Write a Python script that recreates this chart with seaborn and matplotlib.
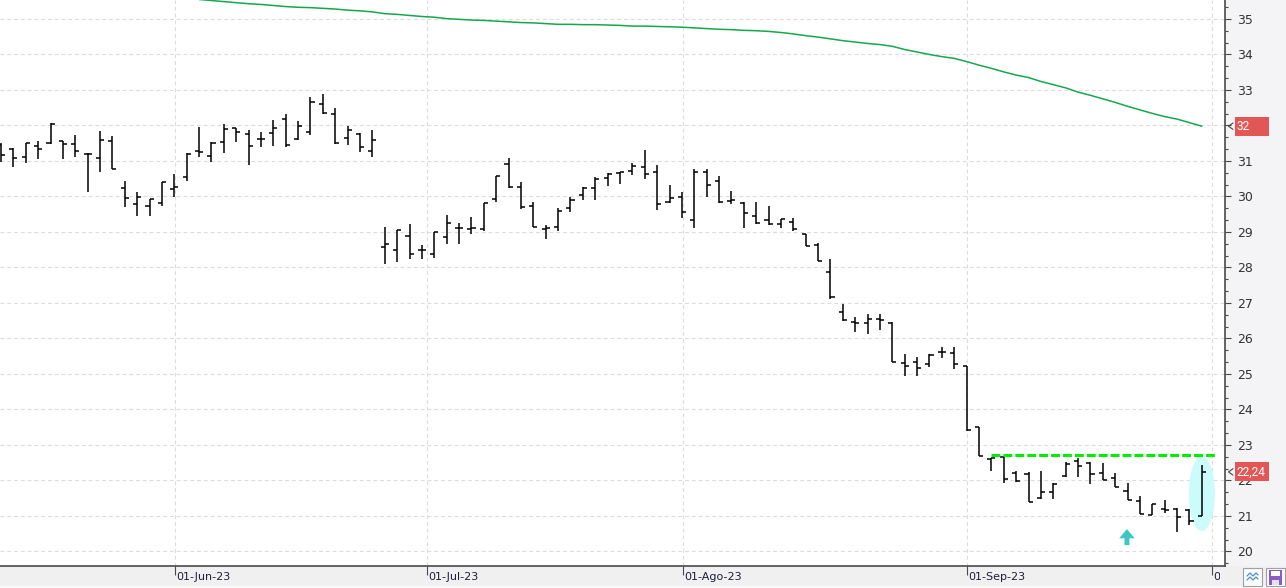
import numpy as np
import pandas as pd
import seaborn as sns
import matplotlib.pyplot as plt
from matplotlib.patches import Rectangle, Ellipse, FancyArrow
from matplotlib.lines import Line2D
from matplotlib.ticker import MultipleLocator, FixedLocator
from matplotlib.transforms import blended_transform_factory, Bbox, TransformedBbox

# Daily OHLC bars (one per trading session)
opens = [31.45, 31.34, 31.11, 31.42, 31.51, 31.56, 31.48, 31.20, 31.08, 31.56,
         30.24, 29.79, 29.73, 29.82, 30.21, 30.55, 31.28, 31.14, 31.54, 31.93,
         31.76, 31.62, 31.79, 32.18, 31.62, 31.82, 32.61, 32.32, 31.65, 31.76,
         31.28, 28.58, 28.49, 28.89, 28.49, 28.38, 28.86, 29.11, 29.08, 29.08,
         29.93, 30.92, 30.27, 29.73, 29.08, 29.14, 29.68, 30.04, 30.24, 30.52,
         30.66, 30.72, 30.83, 30.69, 29.85, 29.99, 29.34, 30.69, 30.44, 29.87,
         29.82, 29.45, 29.34, 29.23, 29.28, 28.94, 28.63, 27.87, 26.75, 26.46,
         26.44, 26.55, 26.44, 25.31, 25.34, 25.28, 25.62, 25.59, 25.23, 23.51,
         22.61, 22.66, 22.21, 22.18, 21.51, 21.68, 22.13, 22.55, 22.49, 22.21,
         22.07, 21.70, 21.42, 21.03, 21.20, 21.20, 21.17, 21.00]
highs = [31.51, 31.37, 31.51, 31.56, 32.07, 31.56, 31.73, 31.23, 31.85, 31.70,
         30.44, 30.13, 29.93, 30.41, 30.63, 31.23, 31.96, 31.54, 32.04, 31.93,
         31.87, 31.82, 32.15, 32.32, 32.13, 32.80, 32.89, 32.49, 31.99, 31.79,
         31.87, 29.14, 29.06, 29.23, 28.63, 29.00, 29.48, 29.25, 29.42, 29.82,
         30.58, 31.08, 30.41, 29.85, 29.20, 29.68, 29.99, 30.27, 30.55, 30.66,
         30.69, 30.94, 31.31, 30.89, 30.32, 30.13, 30.78, 30.78, 30.58, 30.15,
         29.85, 29.85, 29.73, 29.37, 29.39, 28.94, 28.69, 28.24, 26.97, 26.61,
         26.69, 26.69, 26.46, 25.56, 25.48, 25.56, 25.76, 25.76, 25.23, 23.51,
         22.63, 22.66, 22.27, 22.24, 22.27, 21.93, 22.52, 22.63, 22.52, 22.49,
         22.21, 21.93, 21.56, 21.34, 21.45, 21.23, 21.20, 22.44]
lows = [30.97, 30.83, 30.94, 31.06, 31.48, 31.06, 31.11, 30.13, 30.69, 30.77,
        29.70, 29.45, 29.45, 29.73, 29.99, 30.44, 31.11, 30.97, 31.23, 31.54,
        30.89, 31.39, 31.42, 31.39, 31.59, 31.73, 32.32, 31.48, 31.45, 31.25,
        31.11, 28.10, 28.15, 28.24, 28.24, 28.27, 28.66, 28.66, 28.94, 29.03,
        29.85, 30.24, 29.65, 29.14, 28.80, 29.03, 29.56, 29.90, 29.90, 30.30,
        30.35, 30.61, 30.49, 29.62, 29.82, 29.39, 29.11, 29.99, 29.82, 29.79,
        29.11, 29.23, 29.20, 29.11, 29.03, 28.61, 28.18, 27.11, 26.49, 26.18,
        26.13, 26.24, 25.34, 24.94, 24.94, 25.20, 25.45, 25.14, 23.39, 22.69,
        22.27, 21.92, 21.96, 21.39, 21.48, 21.48, 22.10, 22.10, 21.90, 22.01,
        21.82, 21.45, 21.06, 21.03, 21.08, 20.55, 20.75, 20.99]
closes = [31.17, 31.08, 31.51, 31.34, 32.04, 31.48, 31.28, 31.20, 31.59, 30.77,
          29.96, 29.99, 29.93, 30.41, 30.27, 31.20, 31.25, 31.51, 31.90, 31.82,
          31.42, 31.62, 31.93, 31.45, 31.99, 32.66, 32.35, 31.51, 31.87, 31.39,
          31.59, 28.66, 29.06, 28.38, 28.49, 29.00, 29.25, 29.11, 29.11, 29.82,
          30.58, 30.27, 29.70, 29.14, 29.11, 29.59, 29.90, 30.24, 30.49, 30.63,
          30.69, 30.86, 30.63, 29.79, 29.96, 29.56, 30.69, 30.32, 29.85, 29.90,
          29.54, 29.25, 29.23, 29.37, 29.08, 28.61, 28.18, 27.17, 26.52, 26.44,
          26.55, 26.52, 25.34, 25.23, 25.17, 25.54, 25.62, 25.28, 23.42, 22.69,
          22.63, 22.04, 21.99, 21.39, 21.68, 21.90, 22.46, 22.41, 22.18, 22.01,
          21.82, 21.45, 21.06, 21.34, 21.17, 20.97, 20.86, 22.24]

# Moving average (green line), starts at session 16
sma_start = 16
sma = [35.55, 35.52, 35.49, 35.46, 35.43, 35.41, 35.38, 35.35, 35.33, 35.32,
       35.30, 35.28, 35.25, 35.23, 35.20, 35.15, 35.13, 35.10, 35.07, 35.05,
       35.01, 34.99, 34.97, 34.96, 34.94, 34.92, 34.90, 34.89, 34.87, 34.85,
       34.85, 34.84, 34.84, 34.83, 34.82, 34.80, 34.80, 34.79, 34.78, 34.77,
       34.75, 34.73, 34.71, 34.70, 34.68, 34.67, 34.65, 34.62, 34.58, 34.53,
       34.49, 34.44, 34.39, 34.35, 34.31, 34.28, 34.23, 34.14, 34.07, 34.00,
       33.94, 33.89, 33.80, 33.70, 33.61, 33.51, 33.42, 33.35, 33.24, 33.15,
       33.06, 32.94, 32.85, 32.75, 32.65, 32.54, 32.44, 32.34, 32.25, 32.18,
       32.08, 31.98]

# Month labels (session-axis positions)
month_pos = [14.05, 34.4, 55.1, 78.0, 97.8]
month_labels = ["01-Jun-23", "01-Jul-23", "01-Ago-23", "01-Sep-23", "01-Oct-23"]

# Resistance level drawn from session 80 on
resistance = 22.72
resistance_from = 79

W, H = 1286, 588

sns.set_theme(style="white")
plt.rcParams['font.family'] = ['DejaVu Sans']

df = pd.DataFrame({'open': opens, 'high': highs, 'low': lows, 'close': closes})
df['idx'] = np.arange(len(df))
sma_df = pd.DataFrame({'idx': np.arange(sma_start, sma_start + len(sma)), 'sma': sma})

fig = plt.figure(figsize=(W / 100, H / 100), dpi=100, facecolor='#f0f0f0')
ax = fig.add_axes([0, 22 / H, 1225 / W, 566 / H])
ax.set_facecolor('white')


def px_rect(x0, y0, x1, y1, **kw):
    r = Rectangle((x0 / W, 1 - y1 / H), (x1 - x0) / W, (y1 - y0) / H,
                  transform=fig.transFigure, **kw)
    fig.patches.append(r)
    return r


# right price strip background and bottom white line
px_rect(1225, 0, W, 566, fc='#f4f4f7', ec='none', zorder=-1)
px_rect(0, 586, W, H, fc='#fafafa', ec='none', zorder=-1)

# highlight ellipse behind the last bar
ax.add_patch(Ellipse((df['idx'].iloc[-1], 21.63), width=2.1, height=2.11,
                     fc='#cbfbfb', ec='none', zorder=1))

# OHLC bars
ax.vlines(df['idx'], df['low'], df['high'], color='black', lw=1.1, zorder=3)
ax.hlines(df['open'], df['idx'] - 0.33, df['idx'], color='black', lw=1.1, zorder=3)
ax.hlines(df['close'], df['idx'], df['idx'] + 0.33, color='black', lw=1.1, zorder=3)

# moving average
sns.lineplot(data=sma_df, x='idx', y='sma', ax=ax, color='#14a84c', lw=1.1, zorder=2)

# resistance line
ax.plot([resistance_from + 0.95, len(df) + 0.05], [resistance, resistance],
        color='#00ee00', lw=2.2, dashes=(2.9, 1.0), zorder=4, solid_capstyle='butt')

# cyan up arrow
ax.add_patch(FancyArrow(90.95, 20.18, 0, 0.45, width=0.4, head_width=1.25,
                        head_length=0.26, length_includes_head=True,
                        fc='#3cc6c6', ec='none', zorder=4))

ax.set_xlim(-0.08, 98.87)
ax.set_ylim(19.59, 35.535)
ax.set_xlabel('')
ax.set_ylabel('')

ax.xaxis.set_major_locator(FixedLocator(month_pos))
ax.yaxis.set_major_locator(MultipleLocator(1))
ax.yaxis.set_minor_locator(MultipleLocator(1 / 3))
ax.grid(True, which='major', color='#dcdcdc', linestyle=(0, (3.5, 2.6)), lw=0.8)
ax.set_axisbelow(True)

ax.yaxis.tick_right()
ax.tick_params(axis='y', which='major', direction='out', length=4.5, width=0.8,
               color='#4a4a4a', labelsize=9, labelcolor='#333333', pad=4,
               right=True, left=False)
ax.tick_params(axis='y', which='minor', direction='out', length=2.5, width=0.8,
               color='#4a4a4a', right=True, left=False)
ax.tick_params(axis='x', direction='out', length=6.5, width=0.8, color='#4a4a4a',
               labelbottom=False, bottom=True)

for side in ['left', 'top']:
    ax.spines[side].set_visible(False)
for side in ['right', 'bottom']:
    ax.spines[side].set_visible(True)
    ax.spines[side].set_color('#4a4a4a')
    ax.spines[side].set_linewidth(1.2)

# month labels in the bottom strip, clipped at the price axis
clip = TransformedBbox(Bbox([[0, 0], [1220 / W, 1]]), fig.transFigure)
tr_x = blended_transform_factory(ax.transData, fig.transFigure)
for pos, lab in zip(month_pos, month_labels):
    t = fig.text(pos + 0.12, 1 - 577 / H, lab, transform=tr_x, ha='left',
                 va='center', fontsize=8, color='#1e1e3c')
    t.set_clip_on(True)
    t.set_clip_box(clip)

# red price labels on the right axis
tr_y = blended_transform_factory(fig.transFigure, ax.transData)
box_h = 19 / 35.5
for val, txt in [(sma[-1], f"{sma[-1]:.0f}"),
                 (closes[-1], f"{closes[-1]:.2f}".replace('.', ','))]:
    ax.add_patch(Rectangle((1235 / W, val - box_h / 2), 34 / W, box_h, transform=tr_y,
                           fc='#e35656', ec='none', clip_on=False, zorder=6))
    ax.text(1236.5 / W, val, txt, transform=tr_y, ha='left', va='center',
            fontsize=8.5, family='Roboto', color='white', clip_on=False, zorder=7)
    d = 0.09
    ax.add_line(Line2D([1233 / W, 1228.5 / W, 1233 / W], [val + d, val, val - d],
                       transform=tr_y, color='#444444', lw=0.8, clip_on=False, zorder=6))

# toolbar icons in the bottom-right corner
px_rect(1243, 568, 1262, 586, fc='#fafafa', ec='#a0a0a0', lw=0.8, zorder=5)
for dy in (0, 4):
    xs = [1247, 1250, 1253, 1256, 1258]
    ys = [576 + dy, 573 + dy, 576 + dy, 573 + dy, 575 + dy]
    fig.lines.append(Line2D([x / W for x in xs], [1 - y / H for y in ys],
                            transform=fig.transFigure, color='#4a8fd0', lw=0.9, zorder=6))
px_rect(1266, 568, 1285, 586, fc='#fafafa', ec='#a0a0a0', lw=0.8, zorder=5)
px_rect(1269, 570, 1282, 585, fc='#8b5cc9', ec='none', zorder=6)
px_rect(1271, 571, 1280, 576, fc='white', ec='none', zorder=7)
px_rect(1272, 580, 1279, 585, fc='#e8e0f4', ec='none', zorder=7)

fig.savefig('out.png', dpi=100, facecolor=fig.get_facecolor())
